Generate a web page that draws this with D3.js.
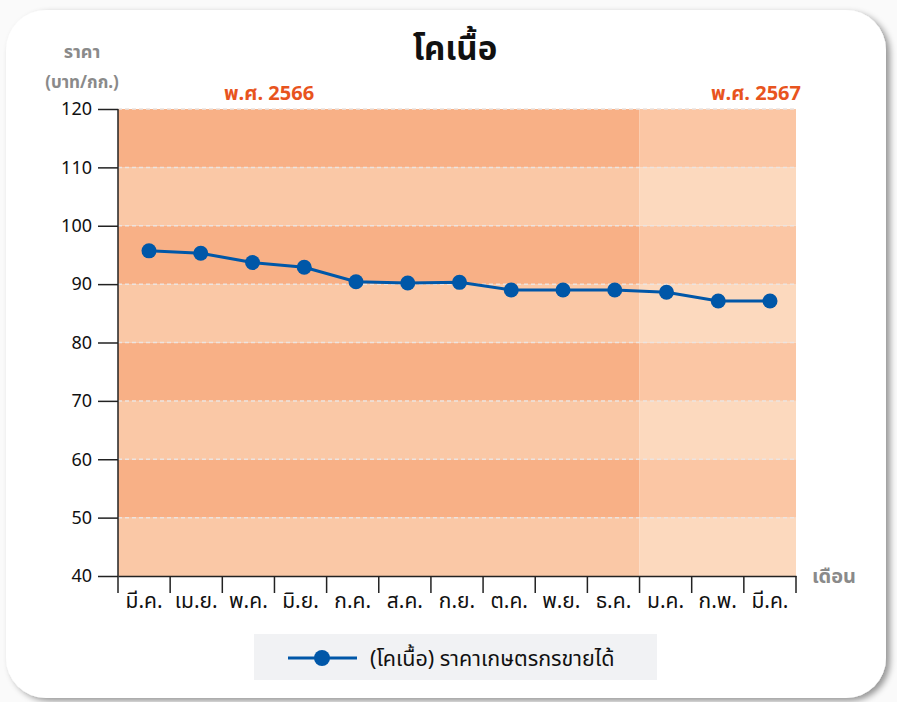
<!DOCTYPE html>
<html>
<head>
<meta charset="utf-8">
<script src="https://cdn.jsdelivr.net/npm/d3@7"></script>
<style>
  body { margin: 0; background: #fafafa; }
  text { font-family: "Noto Sans Thai", "Noto Sans", "DejaVu Sans", sans-serif; }
</style>
</head>
<body>
<div id="plot"></div>
<script>
months = ["มี.ค.", "เม.ย.", "พ.ค.", "มิ.ย.", "ก.ค.", "ส.ค.", "ก.ย.", "ต.ค.", "พ.ย.", "ธ.ค.", "ม.ค.", "ก.พ.", "มี.ค."]
prices = [95.7, 95.3, 93.7, 92.9, 90.4, 90.2, 90.3, 89.0, 89.0, 89.0, 88.6, 87.1, 87.1]
yTicks = [40, 50, 60, 70, 80, 90, 100, 110, 120]
years = [{label: "พ.ศ. 2566", from: 0, to: 10}, {label: "พ.ศ. 2567", from: 10, to: 13}]

W = 897, H = 702

svg = d3.select("#plot").append("svg").attr("width", W).attr("height", H).attr("viewBox", [0, 0, W, H])

defs = svg.append("defs")
f = defs.append("filter").attr("id", "sh").attr("x", -0.05).attr("y", -0.05).attr("width", 1.1).attr("height", 1.1)
f.append("feDropShadow").attr("dx", 4).attr("dy", 3).attr("stdDeviation", 3).attr("flood-color", "#000").attr("flood-opacity", 0.4)

// card
svg.append("rect").attr("x", 6).attr("y", 10).attr("width", 880).attr("height", 688).attr("rx", 40)
  .attr("fill", "#fff").attr("filter", "url(#sh)")

x = d3.scaleBand().domain(d3.range(months.length)).range([118, 796]).padding(0)
xp = d3.scalePoint().domain(d3.range(months.length)).range([149, 770])
y = d3.scaleLinear().domain([40, 120]).range([576, 109])

// background stripes
bands = d3.range(40, 120, 10)
years.forEach((yr, i) => {
  const x0 = x(yr.from), x1 = yr.to >= months.length ? x.range()[1] : x(yr.to)
  svg.append("g").selectAll("rect").data(bands).join("rect")
    .attr("x", x0).attr("width", x1 - x0)
    .attr("y", d => y(d + 10)).attr("height", d => y(d) - y(d + 10))
    .attr("fill", d => {
      const dark = ((d - 40) / 10) % 2 === 1
      if (i === 0) return dark ? "#f8b086" : "#fac8a6"
      return dark ? "#fbc6a4" : "#fcd9be"
    })
})

// gridlines
svg.append("g").selectAll("line").data(yTicks.slice(1)).join("line")
  .attr("x1", 118).attr("x2", 796).attr("y1", d => y(d)).attr("y2", d => y(d))
  .attr("stroke", "#ece4e0").attr("stroke-width", 1.5).attr("stroke-dasharray", "4,3")

// y axis
yAxis = svg.append("g").attr("transform", "translate(118,0)")
  .call(d3.axisLeft(y).tickValues(yTicks).tickSize(20).tickPadding(6))
yAxis.select(".domain").remove()
yAxis.append("line").attr("y1", y(120)).attr("y2", y(40)).attr("stroke", "#222").attr("stroke-width", 1.5)
yAxis.selectAll(".tick line").attr("stroke", "#222").attr("stroke-width", 1.5)
yAxis.selectAll(".tick text").attr("fill", "#111").attr("font-size", 18)

// x axis
xAxis = svg.append("g").attr("transform", "translate(0,576)")
  .call(d3.axisBottom(x).tickSize(0).tickPadding(17).tickFormat(i => months[i]))
xAxis.select(".domain").attr("stroke", "#222").attr("stroke-width", 1.5)
xAxis.selectAll(".tick text").attr("fill", "#111").attr("font-size", 21)
xAxis.selectAll(".sep").data(d3.range(months.length + 1)).join("line").attr("class", "sep")
  .attr("x1", i => i < months.length ? x(i) : x.range()[1]).attr("x2", i => i < months.length ? x(i) : x.range()[1])
  .attr("y1", 0).attr("y2", 17).attr("stroke", "#222").attr("stroke-width", 1.5)

// year labels
svg.append("text").attr("x", 224).attr("y", 100).text(years[0].label)
  .attr("fill", "#e8541e").attr("font-size", 20).attr("font-weight", "bold")
svg.append("text").attr("x", 801).attr("y", 100).attr("text-anchor", "end").text(years[1].label)
  .attr("fill", "#e8541e").attr("font-size", 20).attr("font-weight", "bold")

// line
line = d3.line().x((d, i) => xp(i)).y(d => y(d))
svg.append("path").datum(prices).attr("d", line).attr("fill", "none")
  .attr("stroke", "#0057a8").attr("stroke-width", 3)
svg.append("g").selectAll("circle").data(prices).join("circle")
  .attr("cx", (d, i) => xp(i)).attr("cy", d => y(d)).attr("r", 7.5).attr("fill", "#0057a8")

// titles
svg.append("text").attr("x", 455).attr("y", 60).attr("text-anchor", "middle").text("โคเนื้อ")
  .attr("font-size", 33).attr("font-weight", "bold").attr("fill", "#111")
svg.append("text").attr("x", 82).attr("y", 58).attr("text-anchor", "middle").text("ราคา")
  .attr("font-size", 18).attr("font-weight", "bold").attr("fill", "#8a8a8a")
svg.append("text").attr("x", 82).attr("y", 88).attr("text-anchor", "middle").text("(บาท/กก.)")
  .attr("font-size", 17).attr("font-weight", "bold").attr("fill", "#8a8a8a")
svg.append("text").attr("x", 834).attr("y", 583).attr("text-anchor", "middle").text("เดือน")
  .attr("font-size", 20).attr("font-weight", "bold").attr("fill", "#8a8a8a")

// legend
lg = svg.append("g")
lg.append("rect").attr("x", 254).attr("y", 634).attr("width", 403).attr("height", 46).attr("fill", "#f1f2f4")
lg.append("line").attr("x1", 288).attr("x2", 357).attr("y1", 658).attr("y2", 658).attr("stroke", "#0057a8").attr("stroke-width", 3)
lg.append("circle").attr("cx", 322).attr("cy", 658).attr("r", 8).attr("fill", "#0057a8")
lg.append("text").attr("x", 370).attr("y", 666).text("(โคเนื้อ) ราคาเกษตรกรขายได้")
  .attr("font-size", 21.5).attr("fill", "#111")
</script>
</body>
</html>
